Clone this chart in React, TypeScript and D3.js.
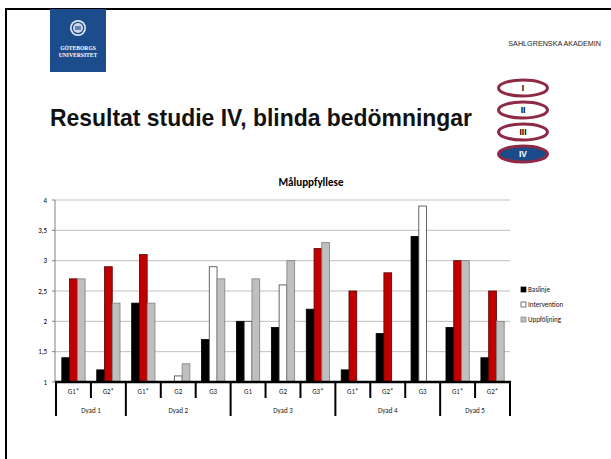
import React from "react";
import * as d3 from "d3";

const categories = ["G1*", "G2*", "G1*", "G2", "G3", "G1", "G2", "G3*", "G1*", "G2*", "G3", "G1*", "G2*"];
const starred = [true, true, true, false, false, false, false, true, true, true, false, true, true];
const dyads = ["Dyad 1", "Dyad 2", "Dyad 3", "Dyad 4", "Dyad 5"];
const dyadSizes = [2, 3, 3, 3, 2];
const baslinje: (number | null)[] = [1.4, 1.2, 2.3, 1.0, 1.7, 2.0, 1.9, 2.2, 1.2, 1.8, 3.4, 1.9, 1.4];
const intervention: (number | null)[] = [2.7, 2.9, 3.1, 1.1, 2.9, 2.0, 2.6, 3.2, 2.5, 2.8, 3.9, 3.0, 2.5];
const uppfoljning: (number | null)[] = [2.7, 2.3, 2.3, 1.3, 2.7, 2.7, 3.0, 3.3, null, null, null, 3.0, 2.0];
const seriesNames = ["Baslinje", "Intervention", "Uppföljning"];
const yTicks = [1, 1.5, 2, 2.5, 3, 3.5, 4];
const romans = ["I", "II", "III", "IV"];

const W = 611, H = 459;
const x0 = 56, x1 = 510, yTop = 200, yBot = 382;

export default function App() {
  const x = d3.scaleBand<number>().domain(d3.range(categories.length)).range([x0, x1]).paddingInner(0).paddingOuter(0);
  const y = d3.scaleLinear().domain([1, 4]).range([yBot, yTop]);
  const bw = x.bandwidth() / 4.5;
  const fmt = (v: number) => String(v).replace(".", ",");
  const series = [baslinje, intervention, uppfoljning];
  const fills = (s: number, i: number) =>
    s === 0 ? "#000000" : s === 1 ? (starred[i] ? "#C00000" : "#FFFFFF") : "#BFBFBF";
  const strokes = (s: number, i: number) =>
    s === 0 ? "#000000" : s === 1 ? (starred[i] ? "#5a0000" : "#404040") : "#7f7f7f";
  const legendFill = ["#000000", "#FFFFFF", "#BFBFBF"];
  const legendStroke = ["#000000", "#404040", "#7f7f7f"];

  const bounds: number[] = [0];
  dyadSizes.forEach((s, i) => bounds.push(bounds[i] + s));
  const catX = (i: number) => (i < categories.length ? (x(i) as number) : x1);

  const labelFont = "Carlito, 'Liberation Sans Narrow', 'Liberation Sans', Arial, sans-serif";
  const ellY = [88, 110, 132, 154];

  return (
    <svg width={W} height={H} style={{ position: "absolute", left: 0, top: 0, background: "#fff" }}>
      <rect x={0} y={0} width={W} height={H} fill="#fff" />
      <line x1={6} y1={8} x2={6} y2={H} stroke="#000" strokeWidth={2} />
      <line x1={5} y1={9} x2={W} y2={9} stroke="#000" strokeWidth={2} />
      {/* logo */}
      <rect x={50} y={9} width={56} height={63} fill="#1C4C8C" />
      <circle cx={78} cy={28} r={8} fill="#dfe6f0" />
      <circle cx={78} cy={28} r={6.3} fill="#1C4C8C" />
      <circle cx={78} cy={28} r={5} fill="#cfd8e6" />
      <rect x={75} y={26} width={6} height={4} fill="#1C4C8C" opacity={0.6} />
      <text x={78} y={50} fill="#fff" fontSize={5.6} fontWeight="bold" textAnchor="middle" fontFamily="'Liberation Serif', serif">GÖTEBORGS</text>
      <text x={78} y={57} fill="#fff" fontSize={5.6} fontWeight="bold" textAnchor="middle" fontFamily="'Liberation Serif', serif">UNIVERSITET</text>
      {/* header text */}
      <text x={601} y={46} fontSize={7.2} textAnchor="end" fill="#222" fontFamily="'Liberation Sans', sans-serif">SAHLGRENSKA AKADEMIN</text>
      <text x={50} y={126} fontSize={24} fontWeight="bold" fill="#111" fontFamily="'Liberation Sans', Arial, sans-serif" textLength={422} lengthAdjust="spacingAndGlyphs">Resultat studie IV, blinda bedömningar</text>
      {/* roman ellipses */}
      {romans.map((r, i) => (
        <g key={r}>
          <ellipse cx={523} cy={ellY[i]} rx={24.5} ry={8} fill={i === 3 ? "#1A4C8B" : "#fff"} stroke="#8E2A45" strokeWidth={3} />
          <text x={523} y={ellY[i] + 3} fontSize={8.5} fontWeight="bold" textAnchor="middle" fill={i === 3 ? "#ffffff" : "#000000"} fontFamily="'Liberation Sans', sans-serif">{r}</text>
        </g>
      ))}
      {/* chart title */}
      <text x={311} y={186} fontSize={11} fontWeight="bold" textAnchor="middle" fontFamily={labelFont}>Måluppfyllese</text>
      {/* gridlines */}
      {yTicks.filter((t) => t > 1).map((t) => (
        <line key={t} x1={55} x2={x1} y1={y(t)} y2={y(t)} stroke="#bfbfbf" strokeWidth={1} />
      ))}
      {/* y axis */}
      <line x1={55} x2={55} y1={yTop} y2={yBot} stroke="#808080" strokeWidth={1} />
      {yTicks.map((t) => (
        <g key={t}>
          <line x1={52} x2={55} y1={y(t)} y2={y(t)} stroke="#808080" />
          <text x={47} y={y(t) + 2.5} fontSize={7} textAnchor="end" fontFamily={labelFont}>{fmt(t)}</text>
        </g>
      ))}
      {/* bars */}
      {series.map((vals, s) =>
        vals.map((v, i) =>
          v == null || v <= 1 ? null : (
            <rect
              key={`${s}-${i}`}
              x={(x(i) as number) + 0.75 * bw + s * bw}
              y={y(v)}
              width={bw}
              height={y(1) - y(v)}
              fill={fills(s, i)}
              stroke={strokes(s, i)}
              strokeWidth={0.8}
            />
          )
        )
      )}
      {/* x axis */}
      <line x1={55} x2={x1 + 1} y1={yBot} y2={yBot} stroke="#000" strokeWidth={2.5} />
      {d3.range(categories.length + 1).map((i) => {
        const isBound = bounds.includes(i);
        return <line key={i} x1={catX(i)} x2={catX(i)} y1={yBot} y2={isBound ? 416 : 398} stroke="#000" strokeWidth={2} />;
      })}
      {categories.map((c, i) => (
        <text key={i} x={(x(i) as number) + x.bandwidth() / 2} y={394} fontSize={7} textAnchor="middle" fill="#222" fontFamily={labelFont}>{c}</text>
      ))}
      {dyads.map((d, k) => (
        <text key={d} x={(catX(bounds[k]) + catX(bounds[k + 1])) / 2} y={413} fontSize={7} textAnchor="middle" fill="#222" fontFamily={labelFont}>{d}</text>
      ))}
      {/* legend */}
      {seriesNames.map((n, k) => (
        <g key={n}>
          <rect x={521} y={287 + k * 15} width={5} height={5} fill={legendFill[k]} stroke={legendStroke[k]} strokeWidth={0.7} />
          <text x={528} y={292 + k * 15} fontSize={7} fontFamily={labelFont} fill="#111">{n}</text>
        </g>
      ))}
    </svg>
  );
}
